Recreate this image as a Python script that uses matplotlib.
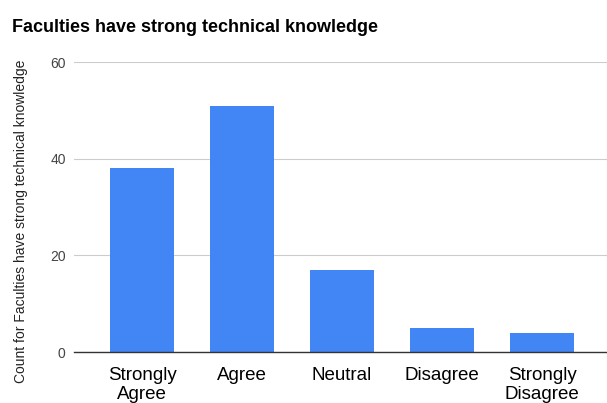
import matplotlib
matplotlib.use('Agg')
import matplotlib.pyplot as plt

categories = ['Strongly\nAgree', 'Agree', 'Neutral', 'Disagree', 'Strongly\nDisagree']
counts = [38, 51, 17, 5, 4]
y_ticks = [0, 20, 40, 60]

plt.rcParams['font.family'] = ['Liberation Sans', 'DejaVu Sans']

bar_color = '#4285F4'

fig = plt.figure(figsize=(6.07, 4.03), dpi=100)
ax = fig.add_axes([74 / 607, 1 - 352 / 403, 533 / 607, 290 / 403])

x = list(range(len(categories)))
ax.bar(x, counts, width=0.64, color=bar_color, zorder=3)

ax.set_xlim(-0.68, 4.65)
ax.set_ylim(0, 60)
ax.set_yticks(y_ticks)
ax.set_xticks(x)
ax.set_xticklabels(categories, fontsize=13.5, color='#000000', linespacing=1.1)
ax.tick_params(axis='x', length=0, pad=11)
ax.tick_params(axis='y', length=0, pad=6, labelsize=10, labelcolor='#444444')
ax.yaxis.grid(True, color='#cccccc', linewidth=0.8, zorder=0)

for side in ['top', 'right', 'left']:
    ax.spines[side].set_visible(False)
ax.spines['bottom'].set_color('#333333')
ax.spines['bottom'].set_linewidth(1)
ax.spines['bottom'].set_zorder(4)

ax.set_ylabel('Count for Faculties have strong technical knowledge', fontsize=10,
              color='#222222')
ax.yaxis.set_label_coords(-46 / 533, 0.452)

fig.text(12 / 607, 1 - 27 / 403, 'Faculties have strong technical knowledge',
         fontsize=13, fontweight='bold', va='center', ha='left', color='#000000')

fig.savefig('out.png', dpi=100)
